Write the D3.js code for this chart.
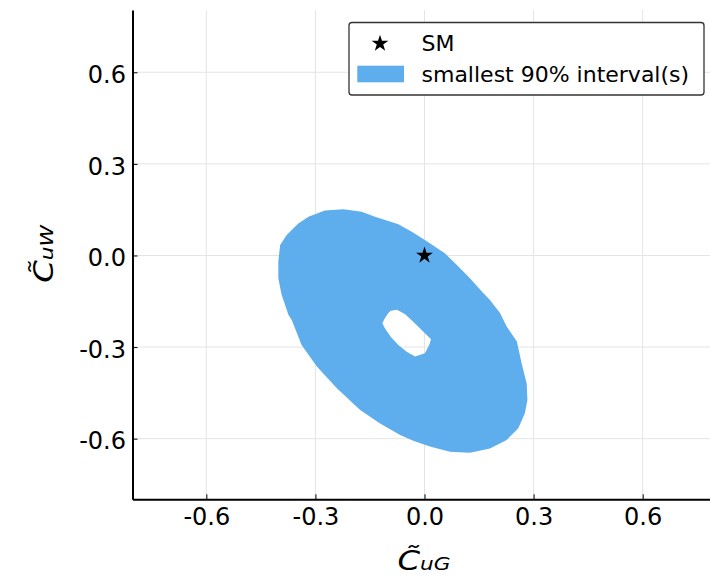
<!DOCTYPE html>
<html>
<head>
<meta charset="utf-8">
<script src="https://cdn.jsdelivr.net/npm/d3@7"></script>
<style>
  html, body { margin: 0; padding: 0; background: #fff; }
  svg { display: block; font-family: "DejaVu Sans", sans-serif; }
</style>
</head>
<body>
<svg id="chart" width="710" height="575"></svg>
<script>
// ---- data ----
const xTicks = [-0.6, -0.3, 0.0, 0.3, 0.6];
const xTickLabels = ["-0.6", "-0.3", "0.0", "0.3", "0.6"];
const yTicks = [-0.6, -0.3, 0.0, 0.3, 0.6];
const yTickLabels = ["-0.6", "-0.3", "0.0", "0.3", "0.6"];

// outer boundary of the smallest 90% interval (C̃uG, C̃uW)
const outerX = [-0.397, -0.379, -0.347, -0.319, -0.274, -0.223, -0.173, -0.136, -0.072, -0.035,
                0.001, 0.056, 0.089, 0.125, 0.162, 0.180, 0.208, 0.226, 0.254, 0.267,
                0.281, 0.283, 0.276, 0.258, 0.226, 0.180, 0.125, 0.070, 0.015, -0.031,
                -0.067, -0.122, -0.177, -0.241, -0.296, -0.338, -0.365, -0.374, -0.393, -0.402, -0.402];
const outerY = [0.034, 0.067, 0.105, 0.127, 0.147, 0.151, 0.143, 0.127, 0.102, 0.078,
                0.051, 0.007, -0.031, -0.075, -0.124, -0.146, -0.189, -0.233, -0.282, -0.353,
                -0.419, -0.473, -0.517, -0.566, -0.604, -0.632, -0.646, -0.643, -0.626, -0.607,
                -0.588, -0.550, -0.506, -0.435, -0.364, -0.293, -0.211, -0.195, -0.129, -0.075, -0.020];
// inner hole
const innerX = [-0.093, -0.076, -0.054, -0.031, -0.003, 0.018, 0.013, 0.001, -0.026, -0.049,
                -0.072, -0.093, -0.109, -0.116, -0.109, -0.100];
const innerY = [-0.181, -0.178, -0.192, -0.217, -0.250, -0.274, -0.293, -0.320, -0.331, -0.315,
                -0.293, -0.266, -0.238, -0.222, -0.206, -0.189];
// Standard Model point
const smX = [0.0];
const smY = [0.0];

const legendLabels = ["SM", "smallest 90% interval(s)"];

// ---- layout ----
const svg = d3.select("#chart");
const x = d3.scaleLinear().domain([-0.803, 0.803]).range([132.5, 716.5]);
const y = d3.scaleLinear().domain([-0.7986, 0.804]).range([499.3, 10]);
const fillColor = "#5eadec";

// grid
const grid = svg.append("g");
grid.selectAll("line.vx").data(xTicks).join("line")
  .attr("x1", d => x(d)).attr("x2", d => x(d))
  .attr("y1", y.range()[1]).attr("y2", y.range()[0])
  .attr("stroke", "#e4e4e4").attr("stroke-width", 1);
grid.selectAll("line.hy").data(yTicks).join("line")
  .attr("y1", d => y(d)).attr("y2", d => y(d))
  .attr("x1", x.range()[0]).attr("x2", x.range()[1])
  .attr("stroke", "#e4e4e4").attr("stroke-width", 1);

// region (ring with hole)
const line = d3.line().x(d => x(d[0])).y(d => y(d[1])).curve(d3.curveLinearClosed);
const outerPts = outerX.map((v, i) => [v, outerY[i]]);
const innerPts = innerX.map((v, i) => [v, innerY[i]]);
svg.append("path")
  .attr("d", line(outerPts) + line(innerPts))
  .attr("fill", fillColor)
  .attr("fill-rule", "evenodd");

// SM star
const star = d3.symbol().type(d3.symbolStar).size(88);
svg.selectAll("path.sm").data(smX.map((v, i) => [v, smY[i]])).join("path")
  .attr("d", star)
  .attr("transform", d => `translate(${x(d[0])},${y(d[1])})`)
  .attr("fill", "#000");

// axes
const xAxis = d3.axisBottom(x).tickValues(xTicks).tickFormat((d, i) => xTickLabels[i])
  .tickSizeInner(-5).tickSizeOuter(0).tickPadding(8.7);
const gx = svg.append("g").attr("transform", `translate(0,${y.range()[0]})`).call(xAxis);
gx.select(".domain").attr("stroke", "#000").attr("stroke-width", 2);
gx.selectAll(".tick line").attr("stroke", "#000").attr("stroke-width", 1);
gx.selectAll(".tick text").attr("font-size", 24).attr("font-family", "DejaVu Sans").attr("fill", "#000");

const yAxis = d3.axisLeft(y).tickValues(yTicks).tickFormat((d, i) => yTickLabels[i])
  .tickSizeInner(-5).tickSizeOuter(0).tickPadding(6.5);
const gy = svg.append("g").attr("transform", `translate(${x.range()[0]},0)`).call(yAxis);
gy.select(".domain").attr("stroke", "#000").attr("stroke-width", 2);
gy.selectAll(".tick line").attr("stroke", "#000").attr("stroke-width", 1);
gy.selectAll(".tick text").attr("font-size", 24).attr("font-family", "DejaVu Sans")
  .attr("fill", "#000").attr("dy", "0.43em");

// axis labels
const xl = svg.append("text")
  .attr("transform", "translate(424,570) scale(1.2,1)")
  .attr("text-anchor", "middle").attr("font-style", "italic").attr("fill", "#000");
xl.append("tspan").attr("font-size", 27).text("C\u0303");
xl.append("tspan").attr("font-size", 18).text("uG");

const yl = svg.append("text")
  .attr("transform", "translate(53,254) rotate(-90) scale(1.2,1)")
  .attr("text-anchor", "middle").attr("font-style", "italic").attr("fill", "#000");
yl.append("tspan").attr("font-size", 27).text("C\u0303");
yl.append("tspan").attr("font-size", 18).text("uW");

// legend
const lg = svg.append("g");
lg.append("rect").attr("x", 349).attr("y", 22.5).attr("width", 355).attr("height", 72.5)
  .attr("rx", 3).attr("fill", "#fff").attr("stroke", "#333").attr("stroke-width", 1.3);
lg.append("path").attr("d", star).attr("transform", "translate(380,43.5)").attr("fill", "#000");
lg.append("rect").attr("x", 357.3).attr("y", 65.7).attr("width", 46.7).attr("height", 16.6)
  .attr("fill", fillColor);
lg.selectAll("text").data(legendLabels).join("text")
  .attr("x", 421.5).attr("y", (d, i) => 51 + i * 31)
  .attr("font-size", 22).attr("fill", "#000").text(d => d);
</script>
</body>
</html>
